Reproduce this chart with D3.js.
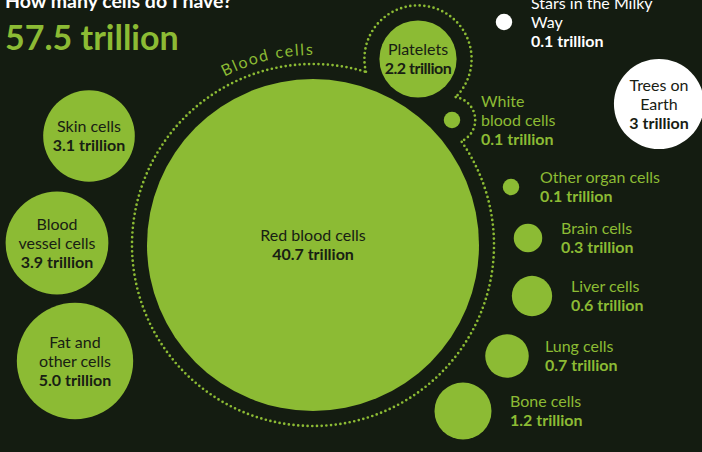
<!DOCTYPE html>
<html>
<head>
<meta charset="utf-8">
<script src="https://cdn.jsdelivr.net/npm/d3@7"></script>
<style>
  html, body { margin: 0; padding: 0; background: #141c11; }
  svg { display: block; }
  text { font-family: Lato, "Noto Sans", sans-serif; }
</style>
</head>
<body>
<svg id="chart" width="702" height="452"></svg>
<script>
// Cells in the human body (trillions)
const cellNames = [
  "Red blood cells", "Platelets", "White\nblood cells",
  "Skin cells", "Blood\nvessel cells", "Fat and\nother cells",
  "Other organ cells", "Brain cells", "Liver cells", "Lung cells", "Bone cells"
];
const cellValues = [40.7, 2.2, 0.1, 3.1, 3.9, 5.0, 0.1, 0.3, 0.6, 0.7, 1.2];
const bloodGroup = ["Red blood cells", "Platelets", "White\nblood cells"];

// Things to compare against (trillions)
const compareNames = ["Stars in the Milky\nWay", "Trees on\nEarth"];
const compareValues = [0.1, 3];

const titleText = "How many cells do I have?";
const totalCells = 57.5;
const groupLabel = "Blood cells";

// Layout: bubble centres and label placement
const layout = {
  "Red blood cells":      { x: 313, y: 245, label: "inside" },
  "Platelets":            { x: 418, y: 59,  label: "inside" },
  "White\nblood cells":   { x: 452, y: 120, label: "right", lx: 481 },
  "Skin cells":           { x: 89,  y: 136, label: "inside" },
  "Blood\nvessel cells":  { x: 57,  y: 243, label: "inside" },
  "Fat and\nother cells": { x: 75,  y: 361, label: "inside" },
  "Other organ cells":    { x: 511, y: 187, label: "right", lx: 540 },
  "Brain cells":          { x: 528, y: 238, label: "right", lx: 561 },
  "Liver cells":          { x: 532, y: 296, label: "right", lx: 571 },
  "Lung cells":           { x: 507, y: 356, label: "right", lx: 545 },
  "Bone cells":           { x: 463, y: 411, label: "right", lx: 510 },
  "Stars in the Milky\nWay": { x: 504, y: 22, label: "right", lx: 531 },
  "Trees on\nEarth":      { x: 659, y: 104, label: "inside" }
};

const GREEN = "#8cbb34";
const DARK = "#182013";
const WHITE = "#ffffff";

const svg = d3.select("#chart");
const W = 702, H = 452;
svg.append("rect").attr("width", W).attr("height", H).attr("fill", "#141c11");

// Area-proportional radius
const r = d3.scaleSqrt().domain([0, 40.7]).range([0, 166]);
const fmtCell = d3.format(".1f");
const fmtCompare = d3.format("~g");

const nodes = cellNames.map((n, i) => ({
  name: n, value: cellValues[i], fill: GREEN, text: DARK, outText: GREEN, fmt: fmtCell
})).concat(compareNames.map((n, i) => ({
  name: n, value: compareValues[i], fill: WHITE, text: DARK, outText: WHITE, fmt: fmtCompare
})));
nodes.forEach(d => { Object.assign(d, layout[d.name]); d.r = r(d.value); });

// Dotted outline around the blood-cell bubbles: boundary of the union of padded circles
const pad = 15;
const group = nodes.filter(d => bloodGroup.includes(d.name))
  .map(d => ({ x: d.x, y: d.y, R: d.r + pad }));
const hullPaths = [];
group.forEach((c, i) => {
  const steps = 1440;
  let seg = [];
  const flush = () => { if (seg.length > 1) hullPaths.push(seg); seg = []; };
  const pts = [];
  for (let k = 0; k <= steps; k++) {
    const a = k / steps * 2 * Math.PI;
    const p = [c.x + c.R * Math.cos(a), c.y + c.R * Math.sin(a)];
    const inside = group.some((o, j) => j !== i && Math.hypot(p[0] - o.x, p[1] - o.y) < o.R);
    pts.push({ p, inside });
  }
  // begin the walk at a covered point so visible arcs are not split at angle 0
  let start = pts.findIndex(q => q.inside);
  if (start < 0) start = 0;
  for (let k = 0; k <= steps; k++) {
    const q = pts[(start + k) % steps];
    if (q.inside) flush(); else seg.push(q.p);
  }
  flush();
});
const line = d3.line();
svg.append("g").selectAll("path").data(hullPaths).join("path")
  .attr("d", d => line(d))
  .attr("fill", "none")
  .attr("stroke", GREEN)
  .attr("stroke-width", 2.7)
  .attr("stroke-linecap", "round")
  .attr("stroke-dasharray", "0 4.7");

// Curved group label along the outline
const red = nodes[0];
const labelR = red.r + pad + 9;
const a0 = -118 * Math.PI / 180, a1 = -60 * Math.PI / 180;
const arcPath = d3.path();
arcPath.arc(red.x, red.y, labelR, a0, a1);
svg.append("path").attr("id", "bloodArc").attr("fill", "none").attr("d", arcPath.toString());
svg.append("text")
  .attr("fill", GREEN).attr("font-size", 16).attr("letter-spacing", 1.6)
  .append("textPath").attr("href", "#bloodArc").attr("startOffset", 1)
  .text(groupLabel);

// Bubbles
svg.append("g").selectAll("circle").data(nodes).join("circle")
  .attr("cx", d => d.x).attr("cy", d => d.y).attr("r", d => d.r)
  .attr("fill", d => d.fill);

// Labels
const LH = 19;
const labels = svg.append("g").selectAll("text").data(nodes).join("text")
  .attr("font-size", 16)
  .attr("fill", d => d.label === "inside" ? d.text : d.outText)
  .attr("text-anchor", d => d.label === "inside" ? "middle" : "start");
labels.each(function (d) {
  const lines = d.name.split("\n");
  const all = lines.map(t => ({ t, bold: false })).concat([{ t: d.fmt(d.value) + " trillion", bold: true }]);
  const x = d.label === "inside" ? d.x : d.lx;
  const top = d.y - (all.length - 1) / 2 * LH;
  const spans = d3.select(this).selectAll("tspan").data(all).join("tspan")
    .attr("x", x)
    .attr("y", (q, i) => top + i * LH)
    .attr("dy", "0.36em")
    .attr("font-weight", q => q.bold ? 700 : 400)
    .text(q => q.t);
  // squeeze a line that would spill past the edge of a small bubble
  if (d.label === "inside") {
    const maxW = 2 * d.r - 10;
    spans.each(function () {
      const w = this.getComputedTextLength();
      if (w > maxW) d3.select(this).attr("letter-spacing", -(w - maxW) / Math.max(1, this.textContent.length - 1));
    });
  }
});

// Title and total
svg.append("text").attr("x", 5).attr("y", 8)
  .attr("fill", WHITE).attr("font-weight", 700).attr("font-size", 19.5)
  .text(titleText);
svg.append("text").attr("x", 5).attr("y", 50)
  .attr("fill", GREEN).attr("font-weight", 700).attr("font-size", 34)
  .text(fmtCell(totalCells) + " trillion");
</script>
</body>
</html>
